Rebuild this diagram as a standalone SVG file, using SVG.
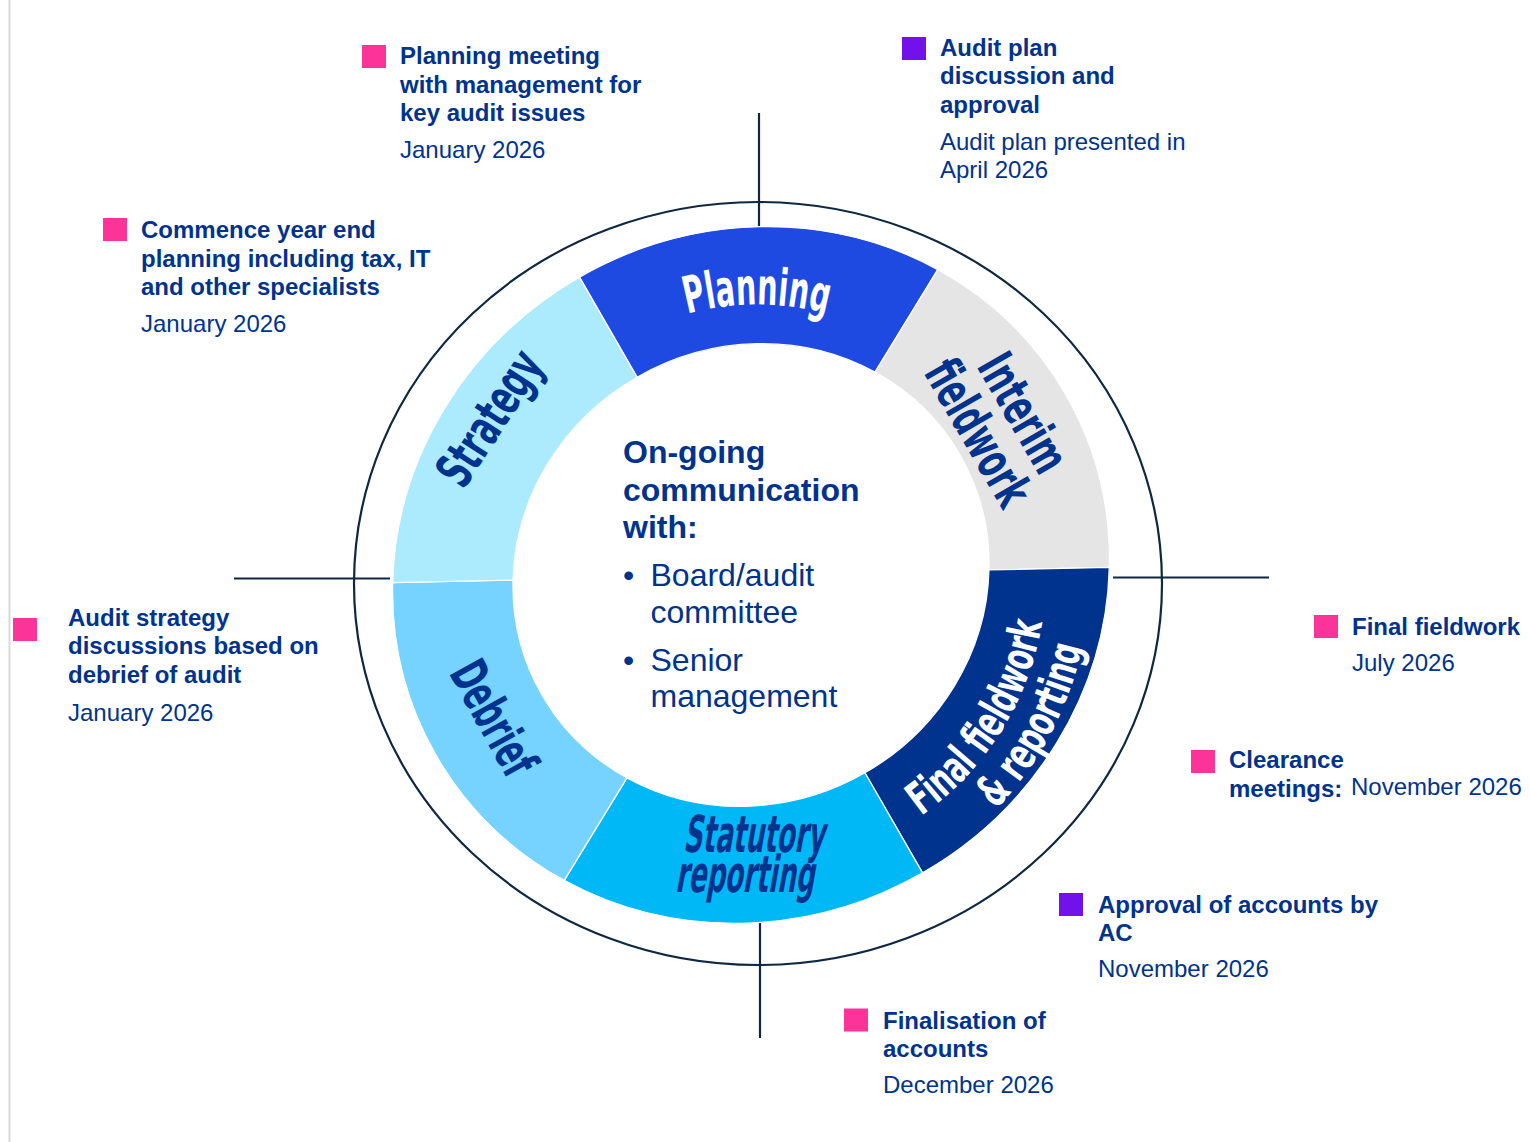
<svg xmlns="http://www.w3.org/2000/svg" width="1530" height="1142" viewBox="0 0 1530 1142">
  <style>
    .ann-b { font-family: "Liberation Sans", Arial, sans-serif; font-size: 24px; font-weight: bold; fill: #00338D; }
    .ann-r { font-family: "Liberation Sans", Arial, sans-serif; font-size: 24px; font-weight: normal; fill: #00338D; }
    .ctr-b { font-family: "Liberation Sans", Arial, sans-serif; font-size: 32px; font-weight: bold; fill: #00338D; }
    .ctr-r { font-family: "Liberation Sans", Arial, sans-serif; font-size: 32px; font-weight: normal; fill: #00338D; }
    .mk-pink { fill: #FC3399; }
    .mk-purple { fill: #7112EA; }
    .seg { stroke: #FFFFFF; stroke-width: 1.3; vector-effect: non-scaling-stroke; }
    .lbl { font-family: "Liberation Sans Narrow", "DejaVu Sans Condensed", "Liberation Sans", sans-serif; font-weight: bold; font-size: 51px; }
    .lbl-s { font-family: "Liberation Sans Narrow", "DejaVu Sans Condensed", "Liberation Sans", sans-serif; font-weight: bold; font-size: 45px; }
    .navy { fill: #00338D; }
    .white { fill: #FFFFFF; }
    .tick { stroke: #0E2841; stroke-width: 2.2; fill: none; }
  </style>
  <defs>
    <!-- baselines for the curved ring labels -->
    <path id="arc-planning" d="M522.74 439.75 A270.5 270.5 0 0 1 991.26 439.75"/>
    <path id="arc-final-1" d="M792.05 867.13 A295 295 0 0 0 1031.56 483.84"/>
    <path id="arc-final-2" d="M809.87 908.85 A339 339 0 0 0 1069.56 459.06"/>
  </defs>

  <rect width="1530" height="1142" fill="#FFFFFF"/>

  <!-- page edge rule -->
  <line x1="9.5" y1="0" x2="9.5" y2="1142" stroke="#D9D9D9" stroke-width="2"/>

  <!-- outer boundary -->
  <ellipse id="outer-ring" cx="758" cy="583.5" rx="404" ry="381.5" fill="none" stroke="#0E2841" stroke-width="2.2"/>

  <!-- quarter tick marks -->
  <g id="connectors" class="tick">
    <path d="M759 113 V233"/>
    <path d="M234 578.5 H390"/>
    <path d="M1113 577.5 H1269"/>
    <path d="M760 916 V1038"/>
  </g>

  <!-- ring segments: six 60 degree sectors of a slightly stretched circle -->
  <g id="seg-planning">
    <path class="seg" fill="#1F4AE2" transform="translate(751 575) rotate(-29.2) scale(1 0.9471)"
          d="M-4.43 -362.87 A362.9 362.9 0 0 1 312.04 -185.27 L207.23 -123.04 A241 241 0 0 0 -2.94 -240.98 Z"/>
    <text class="lbl white" text-anchor="middle"><textPath href="#arc-planning" startOffset="50%" textLength="141" lengthAdjust="spacingAndGlyphs">Planning</textPath></text>
  </g>

  <g id="seg-interim">
    <path class="seg" fill="#E5E5E5" transform="translate(751 575) rotate(-29.2) scale(1 0.9471)"
          d="M312.04 -185.27 A362.9 362.9 0 0 1 316.48 177.60 L210.17 117.94 A241 241 0 0 0 207.23 -123.04 Z"/>
    <text class="lbl navy" text-anchor="middle" transform="translate(1023.5 412.5) rotate(60)" x="0" y="18" textLength="128" lengthAdjust="spacingAndGlyphs">Interim</text>
    <text class="lbl navy" text-anchor="middle" transform="translate(978.5 432.5) rotate(60)" x="0" y="18" textLength="160" lengthAdjust="spacingAndGlyphs">fieldwork</text>
  </g>

  <g id="seg-final">
    <path class="seg" fill="#00338D" transform="translate(751 575) rotate(-29.2) scale(1 0.9471)"
          d="M316.48 177.60 A362.9 362.9 0 0 1 4.43 362.87 L2.94 240.98 A241 241 0 0 0 210.17 117.94 Z"/>
    <text class="lbl-s white" text-anchor="middle"><textPath href="#arc-final-1" startOffset="50%" textLength="234" lengthAdjust="spacingAndGlyphs">Final fieldwork</textPath></text>
    <text class="lbl-s white" text-anchor="middle"><textPath href="#arc-final-2" startOffset="52%" textLength="186" lengthAdjust="spacingAndGlyphs">&amp; reporting</textPath></text>
  </g>

  <g id="seg-statutory">
    <path class="seg" fill="#00B8F5" transform="translate(751 575) rotate(-29.2) scale(1 0.9471)"
          d="M4.43 362.87 A362.9 362.9 0 0 1 -312.04 185.27 L-207.23 123.04 A241 241 0 0 0 2.94 240.98 Z"/>
    <text class="lbl navy" text-anchor="middle" transform="translate(753.5 851.7) skewX(-10)" x="0" y="0" textLength="141" lengthAdjust="spacingAndGlyphs">Statutory</text>
    <text class="lbl navy" text-anchor="middle" transform="translate(744.5 891.5) skewX(-10)" x="0" y="0" textLength="139" lengthAdjust="spacingAndGlyphs">reporting</text>
  </g>

  <g id="seg-debrief">
    <path class="seg" fill="#76D2FF" transform="translate(751 575) rotate(-29.2) scale(1 0.9471)"
          d="M-312.04 185.27 A362.9 362.9 0 0 1 -316.48 -177.60 L-210.17 -117.94 A241 241 0 0 0 -207.23 123.04 Z"/>
    <text class="lbl navy" text-anchor="middle" transform="translate(494 718) rotate(61)" x="0" y="18" textLength="123" lengthAdjust="spacingAndGlyphs">Debrief</text>
  </g>

  <g id="seg-strategy">
    <path class="seg" fill="#ACEAFE" transform="translate(751 575) rotate(-29.2) scale(1 0.9471)"
          d="M-316.48 -177.60 A362.9 362.9 0 0 1 -4.43 -362.87 L-2.94 -240.98 A241 241 0 0 0 -210.17 -117.94 Z"/>
    <text class="lbl navy" text-anchor="middle" transform="translate(492.5 420) rotate(-57)" x="0" y="14" textLength="150" lengthAdjust="spacingAndGlyphs">Strategy</text>
  </g>

  <!-- centre panel -->
  <g id="centre">
    <text class="ctr-b" x="623" y="462.7">On-going</text>
    <text class="ctr-b" x="623" y="501">communication</text>
    <text class="ctr-b" x="623" y="538.3">with:</text>
    <text class="ctr-r" x="623" y="585.7">•</text>
    <text class="ctr-r" x="650.5" y="585.7">Board/audit</text>
    <text class="ctr-r" x="650.5" y="623.3">committee</text>
    <text class="ctr-r" x="623" y="670.7">•</text>
    <text class="ctr-r" x="650.5" y="670.7">Senior</text>
    <text class="ctr-r" x="650.5" y="707.3">management</text>
  </g>

  <!-- milestones -->
  <g id="ms-planning-meeting">
    <rect class="mk-pink" x="362" y="45" width="24" height="23"/>
    <text class="ann-b" x="400" y="64.3">Planning meeting</text>
    <text class="ann-b" x="400" y="92.7">with management for</text>
    <text class="ann-b" x="400" y="121">key audit issues</text>
    <text class="ann-r" x="400" y="157.7">January 2026</text>
  </g>

  <g id="ms-audit-plan">
    <rect class="mk-purple" x="902" y="37" width="24" height="23"/>
    <text class="ann-b" x="940" y="55.7">Audit plan</text>
    <text class="ann-b" x="940" y="84.3">discussion and</text>
    <text class="ann-b" x="940" y="112.7">approval</text>
    <text class="ann-r" x="940" y="150">Audit plan presented in</text>
    <text class="ann-r" x="940" y="178">April 2026</text>
  </g>

  <g id="ms-commence">
    <rect class="mk-pink" x="103" y="218" width="24" height="23"/>
    <text class="ann-b" x="141" y="238.3">Commence year end</text>
    <text class="ann-b" x="141" y="266.7">planning including tax, IT</text>
    <text class="ann-b" x="141" y="295">and other specialists</text>
    <text class="ann-r" x="141" y="331.7">January 2026</text>
  </g>

  <g id="ms-strategy">
    <rect class="mk-pink" x="13" y="618" width="24" height="23"/>
    <text class="ann-b" x="68" y="626">Audit strategy</text>
    <text class="ann-b" x="68" y="654.3">discussions based on</text>
    <text class="ann-b" x="68" y="683.3">debrief of audit</text>
    <text class="ann-r" x="68" y="720.7">January 2026</text>
  </g>

  <g id="ms-final-fieldwork">
    <rect class="mk-pink" x="1314" y="615" width="24" height="23"/>
    <text class="ann-b" x="1352" y="635">Final fieldwork</text>
    <text class="ann-r" x="1352" y="670.7">July 2026</text>
  </g>

  <g id="ms-clearance">
    <rect class="mk-pink" x="1191" y="750" width="24" height="23"/>
    <text class="ann-b" x="1229" y="768.3">Clearance</text>
    <text class="ann-b" x="1229" y="796.7">meetings:</text>
    <text class="ann-r" x="1351" y="795">November 2026</text>
  </g>

  <g id="ms-approval">
    <rect class="mk-purple" x="1059" y="893" width="24" height="23"/>
    <text class="ann-b" x="1098" y="913">Approval of accounts by</text>
    <text class="ann-b" x="1098" y="941">AC</text>
    <text class="ann-r" x="1098" y="977.3">November 2026</text>
  </g>

  <g id="ms-finalisation">
    <rect class="mk-pink" x="844" y="1008.5" width="24" height="23"/>
    <text class="ann-b" x="883" y="1029">Finalisation of</text>
    <text class="ann-b" x="883" y="1056.7">accounts</text>
    <text class="ann-r" x="883" y="1093.3">December 2026</text>
  </g>
</svg>
